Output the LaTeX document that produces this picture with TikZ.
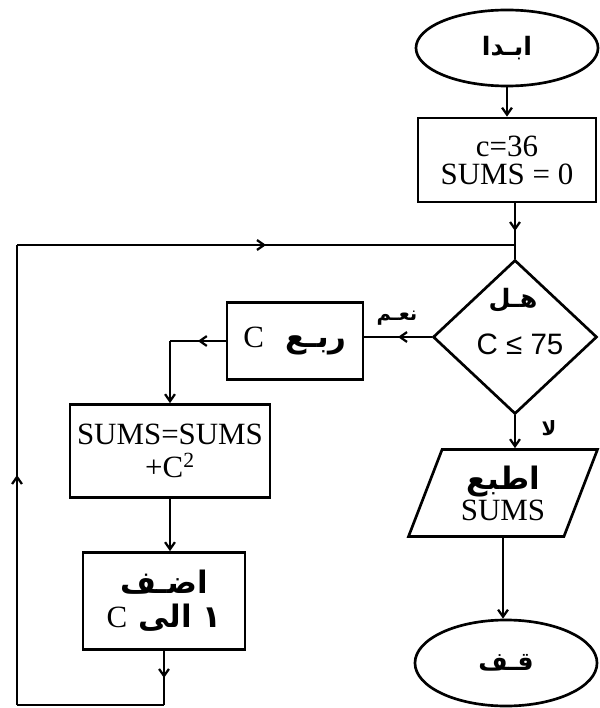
\documentclass[tikz,border=0pt]{standalone}
\usepackage{fontspec}
\setmainfont{Liberation Serif}
\newfontfamily\arabicfont[Script=Arabic]{DejaVu Sans}
\newfontfamily\cmpfont{Liberation Sans}
\TeXXeTstate=1
\usepackage{tikz}
\usetikzlibrary{shapes.geometric, arrows.meta, decorations.markings}
\newcommand{\arb}[1]{{\arabicfont\bfseries\beginR #1\endR}}
\tikzset{
  fl/term/.style={ellipse, draw, fill=white, line width=1.9pt,
    minimum width=4.55cm, minimum height=1.9cm, inner sep=0pt,
    font=\fontsize{18}{20}\selectfont},
  fl/proc/.style={rectangle, draw, fill=white, line width=1.9pt,
    inner sep=2pt, align=center, font=\fontsize{22}{24}\selectfont},
  fl/dec/.style={diamond, draw, fill=white, line width=1.9pt,
    minimum width=4.1cm, minimum height=3.85cm, inner sep=0pt},
  fl/io/.style={trapezium, trapezium left angle=67, trapezium right angle=113,
    trapezium stretches=true, draw, fill=white, line width=1.9pt,
    minimum width=4.75cm, minimum height=2.175cm, inner sep=0pt,
    align=center, font=\fontsize{22}{24}\selectfont},
  fl/lbl/.style={inner sep=1pt, font=\fontsize{14}{16}\selectfont},
  fl/arr/.style={-{Straight Barb[length=5pt,width=7pt]}, line width=1.6pt},
  fl/line/.style={line width=1.6pt},
  fl/mid/.style={line width=1.6pt, postaction={decorate},
    decoration={markings, mark=at position 0.5 with
      {\arrow{Straight Barb[length=5pt,width=7pt]}}}}
}
\begin{document}
\begin{tikzpicture}[x=0.025cm, y=-0.025cm]
  \useasboundingbox (0,0) rectangle (599,708);

  % main column
  \node[fl/term] (start) at (507,48) {\arb{ابـدا}};
  \node[fl/proc, minimum width=4.45cm, minimum height=2.1cm] (init) at (507,160)
    {c=36\\[-4pt]SUMS = 0};
  \node[fl/dec] (dec) at (515,337) {};
  \node[fl/lbl, font=\fontsize{18}{20}\selectfont] (decq) at (513,300) {\arb{هـل}};
  \node[font=\cmpfont\fontsize{21}{24}\selectfont] (dect) at (520,344) {C ≤ 75};
  \node[fl/io] (prt) at (503,493) {\arb{اطبع}\\[-2pt]SUMS};
  \node[fl/term, minimum height=2.15cm] (stop) at (506,663) {\arb{قـف}};

  % loop body
  \node[fl/proc, minimum width=3.4cm, minimum height=1.925cm] (sq) at (295,341)
    {\arb{ربـع~~\beginL{\rmfamily\mdseries C}\endL}};
  \node[fl/proc, minimum width=5cm, minimum height=2.325cm] (sums) at (170,451)
    {SUMS=SUMS\\+C\textsuperscript{2}};
  \node[fl/proc, minimum width=4.05cm, minimum height=2.425cm] (add) at (164,601)
    {\arb{اضـف}\\\arb{١ الى~\beginL{\rmfamily\mdseries C}\endL}};

  \node[fl/lbl] (yes) at (397,318) {\arb{نعـم}};
  \node[fl/lbl] (no) at (549,428) {\arb{لا}};

  \coordinate (loopTL) at (17,245);
  \coordinate (loopBL) at (17,705);
  \coordinate (join) at (loopTL -| dec.north);

  \draw[fl/arr] (start) -- (init);
  \draw[fl/mid] (init.south -| dec.north) -- (dec.north);
  \draw[fl/mid] (dec.west) -- (dec.west -| sq.east);
  \draw[fl/mid] (sq.west) -- (sq.west -| sums.north);
  \draw[fl/arr] (sq.west -| sums.north) -- (sums.north);
  \draw[fl/arr] (sums.south) -- (sums.south |- add.north);
  \draw[fl/mid] (add.south) -- (add.south |- loopBL);
  \draw[fl/line] (add.south |- loopBL) -- (loopBL);
  \draw[fl/mid] (loopBL) -- (loopTL);
  \draw[fl/mid] (loopTL) -- (join);
  \draw[fl/arr] (dec.south) -- (dec.south |- prt.north);
  \draw[fl/arr] (prt.south) -- (prt.south |- stop.north);
\end{tikzpicture}
\end{document}
